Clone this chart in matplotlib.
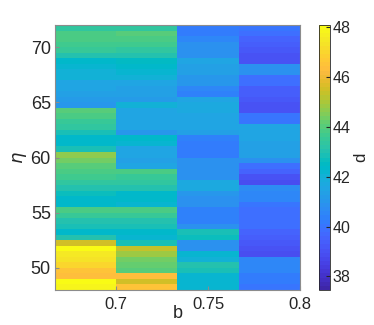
import numpy as np
import matplotlib
matplotlib.use("Agg")
import matplotlib.pyplot as plt
from matplotlib.colors import ListedColormap

plt.rcParams['font.family'] = ['Liberation Sans', 'DejaVu Sans']

# grid: b column edges and eta row edges (top -> bottom, 0.5 steps)
b_edges = [2/3, 0.7, 0.7333, 0.7667, 0.8]
eta_edges = np.arange(72.0, 47.9, -0.5)

# d values, one list per b column, rows from eta=72 (top) down to eta=48
d_col1 = [43.3, 43.9, 43.9, 43.7, 43.5, 43.1, 42.3, 42.2, 42.1, 42.0,
          41.6, 41.5, 41.4, 41.2, 41.0, 44.0, 43.8, 43.6, 43.3, 42.8,
          42.4, 42.3, 42.9, 44.7, 44.3, 44.1, 43.9, 43.7, 43.4, 43.1,
          42.7, 42.4, 42.3, 43.8, 43.5, 43.1, 42.9, 42.4, 43.0, 45.5,
          48.0, 47.6, 47.3, 47.0, 46.6, 46.4, 48.1, 47.8]
d_col2 = [43.4, 44.0, 43.9, 43.7, 43.3, 43.0, 42.6, 42.3, 42.2, 42.1,
          41.5, 41.4, 41.3, 41.2, 42.1, 41.6, 41.6, 41.5, 41.5, 41.1,
          42.3, 42.2, 41.6, 41.5, 41.4, 41.5, 43.8, 43.6, 43.4, 43.1,
          42.4, 42.3, 42.2, 43.8, 43.5, 43.0, 42.8, 42.3, 42.2, 42.9,
          45.4, 44.8, 44.4, 44.2, 44.0, 46.3, 45.6, 46.6]
d_col3 = [40.2, 40.2, 40.5, 40.8, 40.8, 40.9, 41.5, 41.4, 41.3, 41.1,
          41.0, 40.5, 40.4, 41.6, 41.7, 41.7, 41.6, 41.6, 41.5, 41.4,
          40.3, 40.2, 40.2, 40.2, 40.8, 40.8, 40.9, 40.9, 41.7, 41.7,
          41.0, 40.9, 40.8, 40.3, 40.3, 40.4, 40.9, 42.8, 42.7, 40.9,
          40.9, 42.2, 42.1, 43.0, 42.9, 42.2, 42.2, 42.2]
d_col4 = [40.1, 39.8, 39.5, 39.3, 39.2, 39.1, 39.1, 40.8, 40.8, 39.9,
          39.8, 39.4, 39.3, 39.2, 39.1, 39.0, 40.1, 40.1, 41.5, 41.5,
          41.5, 41.4, 41.4, 41.3, 40.8, 39.8, 39.6, 39.0, 38.9, 40.7,
          40.6, 40.6, 40.0, 39.9, 39.8, 39.9, 39.8, 39.5, 39.4, 39.2,
          39.0, 38.8, 40.6, 40.6, 40.5, 40.2, 40.2, 40.1]

d_min, d_max = 37.45, 48.1

# MATLAB parula colormap (64 entries)
parula_rgb = [
    [0.2422, 0.1504, 0.6603], [0.2504, 0.1650, 0.7076], [0.2578, 0.1818, 0.7511],
    [0.2647, 0.1978, 0.7952], [0.2706, 0.2147, 0.8364], [0.2751, 0.2342, 0.8710],
    [0.2783, 0.2559, 0.8991], [0.2803, 0.2782, 0.9221], [0.2813, 0.3006, 0.9414],
    [0.2810, 0.3228, 0.9579], [0.2795, 0.3447, 0.9717], [0.2760, 0.3667, 0.9829],
    [0.2699, 0.3892, 0.9906], [0.2602, 0.4123, 0.9952], [0.2440, 0.4358, 0.9988],
    [0.2206, 0.4603, 0.9973], [0.1963, 0.4847, 0.9892], [0.1834, 0.5074, 0.9798],
    [0.1786, 0.5289, 0.9682], [0.1764, 0.5499, 0.9520], [0.1687, 0.5703, 0.9359],
    [0.1540, 0.5902, 0.9218], [0.1460, 0.6091, 0.9079], [0.1380, 0.6276, 0.8973],
    [0.1248, 0.6459, 0.8883], [0.1113, 0.6635, 0.8763], [0.0952, 0.6798, 0.8598],
    [0.0689, 0.6948, 0.8394], [0.0297, 0.7082, 0.8163], [0.0036, 0.7203, 0.7917],
    [0.0067, 0.7312, 0.7660], [0.0433, 0.7411, 0.7394], [0.0964, 0.7500, 0.7120],
    [0.1408, 0.7584, 0.6842], [0.1717, 0.7670, 0.6554], [0.1938, 0.7758, 0.6251],
    [0.2161, 0.7843, 0.5923], [0.2470, 0.7918, 0.5567], [0.2906, 0.7973, 0.5188],
    [0.3406, 0.8008, 0.4789], [0.3909, 0.8029, 0.4354], [0.4456, 0.8024, 0.3909],
    [0.5044, 0.7993, 0.3480], [0.5616, 0.7942, 0.3045], [0.6174, 0.7876, 0.2612],
    [0.6720, 0.7793, 0.2227], [0.7242, 0.7698, 0.1910], [0.7738, 0.7598, 0.1646],
    [0.8203, 0.7498, 0.1535], [0.8634, 0.7406, 0.1596], [0.9035, 0.7330, 0.1774],
    [0.9393, 0.7288, 0.2100], [0.9728, 0.7298, 0.2394], [0.9956, 0.7434, 0.2371],
    [0.9970, 0.7659, 0.2199], [0.9952, 0.7893, 0.2028], [0.9892, 0.8136, 0.1885],
    [0.9786, 0.8386, 0.1766], [0.9676, 0.8639, 0.1643], [0.9610, 0.8890, 0.1537],
    [0.9597, 0.9135, 0.1423], [0.9628, 0.9373, 0.1265], [0.9691, 0.9606, 0.1064],
    [0.9769, 0.9839, 0.0805]]
parula = ListedColormap(parula_rgb, name="parula")

D = np.column_stack([d_col1, d_col2, d_col3, d_col4])

fig = plt.figure(figsize=(3.74, 3.25), dpi=100)
ax = fig.add_axes([55/374, 35/325, 245/374, 265/325])
cax = fig.add_axes([319/374, 35/325, 11/374, 265/325])

mesh = ax.pcolormesh(b_edges, eta_edges, D, cmap=parula, vmin=d_min, vmax=d_max,
                     shading="flat", antialiased=False)
ax.set_xlim(b_edges[0], b_edges[-1])
ax.set_ylim(48, 72)

txt = "#262626"
ax.set_xticks([0.7, 0.75, 0.8])
ax.set_xticklabels(["0.7", "0.75", "0.8"])
ax.set_yticks([50, 55, 60, 65, 70])
ax.tick_params(axis="x", direction="in", length=3, colors="#8c8c8c",
               labelcolor=txt, labelsize=12, pad=5)
ax.tick_params(axis="y", direction="in", length=3, colors="#8c8c8c",
               labelcolor=txt, labelsize=13, pad=3)
for s in ax.spines.values():
    s.set_color("#8c8c8c")
    s.set_linewidth(0.8)

ax.set_xlabel("b", fontsize=13, color=txt, labelpad=-5)
ax.set_ylabel(r"$\eta$", fontsize=13, color=txt, labelpad=1)

cb = fig.colorbar(mesh, cax=cax)
cb.set_ticks([38, 40, 42, 44, 46, 48])
cb.ax.tick_params(direction="in", length=3, colors=txt, labelsize=11.5, pad=2)
cb.outline.set_edgecolor("#262626")
cb.outline.set_linewidth(0.6)
cb.set_label("d", fontsize=12, color=txt, labelpad=2)

fig.savefig("out.png", dpi=100)
